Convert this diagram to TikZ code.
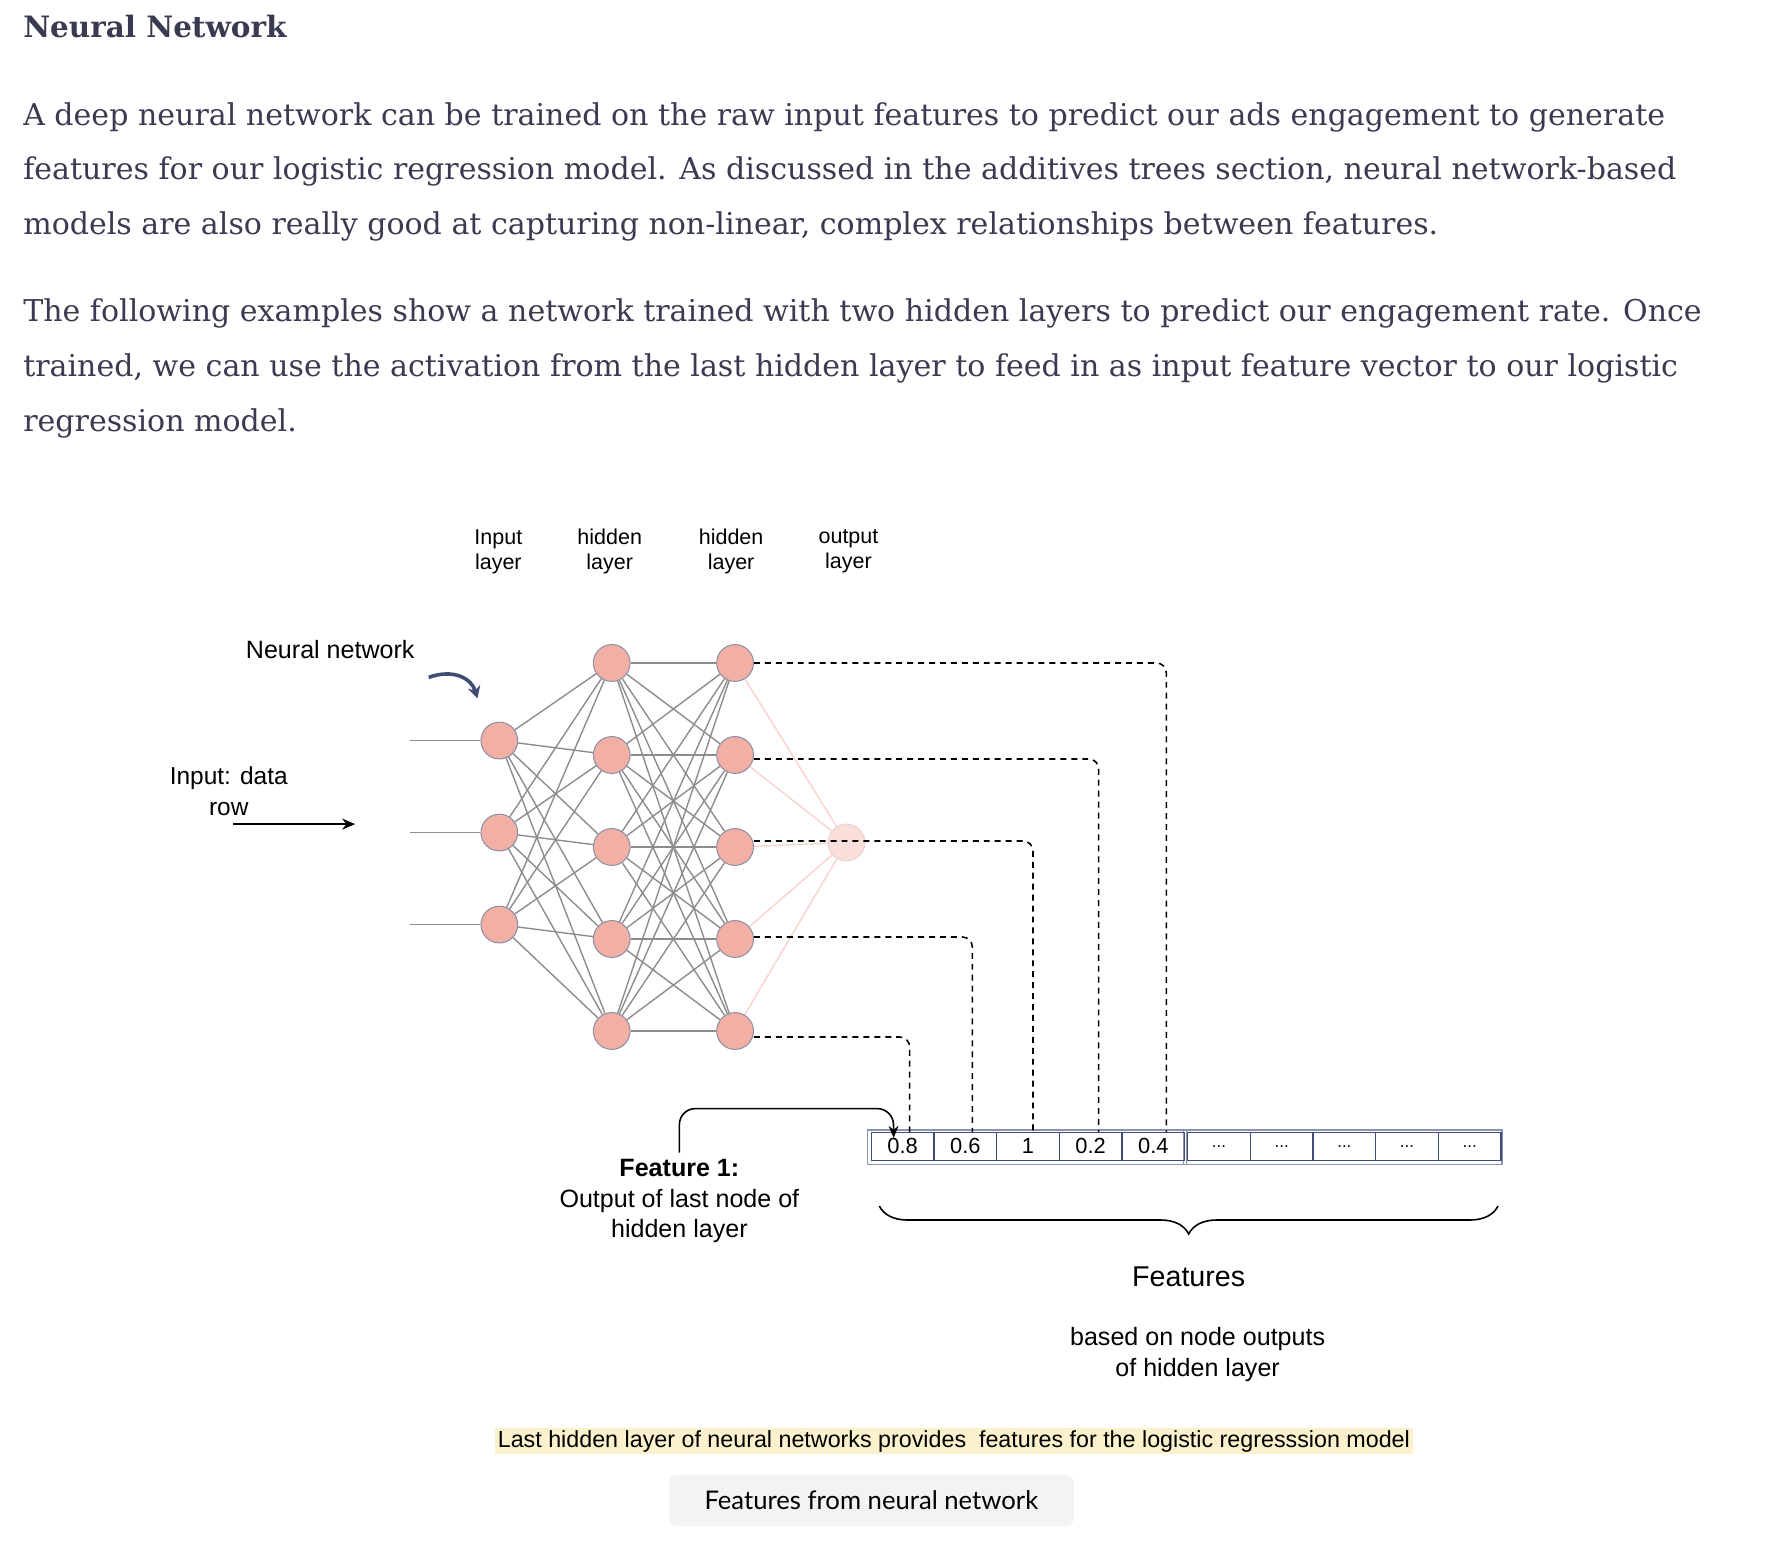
\documentclass[tikz,border=0pt]{standalone}
\usepackage{fontspec}
\setmainfont{Liberation Sans}
\newfontfamily\bodyfont{DejaVu Serif}
\newfontfamily\btnfont{Lato}
\usetikzlibrary{arrows.meta,decorations.pathreplacing}
\pgfdeclarelayer{background}
\pgfsetlayers{background,main}
\definecolor{bodytxt}{HTML}{3A3B50}
\definecolor{nfill}{HTML}{F2AFA4}
\definecolor{nborder}{HTML}{8A8CA6}
\definecolor{ofill}{HTML}{F9DEDA}
\definecolor{oborder}{HTML}{EBD3D3}
\definecolor{wiregray}{HTML}{8C8C8C}
\definecolor{pinkwire}{HTML}{F8D3CE}
\definecolor{cellblue}{HTML}{3F4B78}
\definecolor{shadowblue}{HTML}{8A93B5}
\definecolor{capyellow}{HTML}{FCF1CD}
\definecolor{btngray}{HTML}{F3F3F3}
\definecolor{curvearrow}{HTML}{3F4D75}
\tikzset{
  bodyline/.style={anchor=west, inner sep=0pt, text=bodytxt, font=\bodyfont\fontsize{15.1}{18}\selectfont},
  neuron/.style={circle, draw=nborder, fill=nfill, line width=0.5pt, minimum size=18.5pt, inner sep=0pt},
  outneuron/.style={circle, draw=oborder, fill=ofill, line width=0.5pt, minimum size=18.5pt, inner sep=0pt},
  wire/.style={draw=wiregray, line width=0.7pt},
  owire/.style={draw=pinkwire, line width=0.7pt},
  dashline/.style={draw=black, line width=0.8pt, dash pattern=on 3pt off 2.5pt, rounded corners=5pt},
  layerlbl/.style={align=center, inner sep=0pt, font=\fontsize{10.8}{12.5}\selectfont},
  cell/.style={draw=cellblue, line width=0.6pt, minimum width=31.5pt, minimum height=14pt, inner sep=0pt, font=\fontsize{11}{12}\selectfont},
}
\begin{document}
\begin{tikzpicture}[x=0.5pt,y=-0.5pt]
\useasboundingbox (0,0) rectangle (1793.5,1550);

% ---------- article text ----------
\node[anchor=west, inner sep=0pt, text=bodytxt, font=\bodyfont\bfseries\fontsize{14.8}{17}\selectfont] (title) at (23,27) {Neural Network};
\node[bodyline] (l1) at (23,117.8) {A deep neural network can be trained on the raw input features to predict our ads engagement to generate};
\node[bodyline] (l2) at (23,172.7) {features for our logistic regression model. As discussed in the additives trees section, neural network-based};
\node[bodyline] (l3) at (23,227.5) {models are also really good at capturing non-linear, complex relationships between features.};
\node[bodyline] (l4) at (23,315.6) {The following examples show a network trained with two hidden layers to predict our engagement rate. Once};
\node[bodyline] (l5) at (23,370.5) {trained, we can use the activation from the last hidden layer to feed in as input feature vector to our logistic};
\node[bodyline] (l6) at (23,425.4) {regression model.};

% ---------- layer labels ----------
\node[layerlbl] (lblin) at (501,554.5) {Input\\layer};
\node[layerlbl] (lblh1) at (613,554.5) {hidden\\layer};
\node[layerlbl] (lblh2) at (735,554.5) {hidden\\layer};
\node[layerlbl] (lblout) at (853,554.5) {output\\layer};

\node[inner sep=0pt, font=\fontsize{12.6}{15}\selectfont] (nnlbl) at (332,653) {Neural network};
\coordinate (ca) at (431,681);
\coordinate (cb) at (480,702);
\draw[curvearrow, line width=1.8pt, -{Stealth[length=6pt,width=6.5pt]}] (ca) .. controls (456,672) and (474,682) .. (cb);

\node[align=center, inner sep=0pt, font=\fontsize{12.3}{15.5}\selectfont] (inlbl) at (230,795.5) {Input: data\\row};
\coordinate (ia) at (234,828.5);
\coordinate (ib) at (357,828.5);
\draw[black, line width=0.8pt, -{Stealth[length=6.5pt,width=5.5pt]}] (ia) -- (ib);

% ---------- neurons ----------
\foreach \i/\y in {1/744.5,2/837,3/929.5} {
  \node[neuron] (in\i) at (502,\y) {};
  \coordinate (src\i) at (412,\y);
}
\foreach \i/\y in {1/666.5,2/759,3/851.5,4/944,5/1036.5} {
  \node[neuron] (ha\i) at (615,\y) {};
  \node[neuron] (hb\i) at (739,\y) {};
}
\node[outneuron] (out) at (851,847) {};

\begin{pgfonlayer}{background}
  \foreach \i in {1,2,3} {
    \draw[wire] (src\i) -- (in\i);
    \foreach \j in {1,2,3,4,5} { \draw[wire] (in\i) -- (ha\j); }
  }
  \foreach \i in {1,2,3,4,5} {
    \foreach \j in {1,2,3,4,5} { \draw[wire] (ha\i) -- (hb\j); }
    \draw[owire] (hb\i) -- (out.center);
  }
\end{pgfonlayer}

% ---------- feature vector ----------
\draw[shadowblue, line width=0.6pt] (872,1136) rectangle (1193,1171);
\draw[shadowblue, line width=0.6pt] (1190,1136) rectangle (1510,1171);
\foreach \i/\t in {1/0.8,2/0.6,3/1,4/0.2,5/0.4} {
  \node[cell] (c\i) at ({876+31.5+63*(\i-1)},1152.5) {\t};
}
\foreach \i in {6,7,8,9,10} {
  \node[cell] (c\i) at ({879+31.5+63*(\i-1)},1152.5) {\fontsize{8.5}{10}\selectfont ...};
}

% ---------- dashed feeds ----------
\draw[dashline] (hb1.east) -| ([xshift=6.5pt]c5.north);
\draw[dashline] ([yshift=-2pt]hb2.east) -| ([xshift=4pt]c4.north);
\draw[dashline] ([yshift=3pt]hb3.east) -| ([xshift=2.5pt]c3.north);
\draw[dashline] ([yshift=1pt]hb4.east) -| ([xshift=3.5pt]c2.north);
\draw[dashline] ([yshift=-3pt]hb5.east) -| ([xshift=3.5pt]c1.north);

% ---------- feature 1 annotation ----------
\node[align=center, inner sep=0pt, font=\fontsize{12.6}{15.5}\selectfont] (f1) at (683,1207.5) {\textbf{Feature 1:}\\Output of last node of\\hidden layer};
\coordinate (fturn) at (898,1114.5);
\draw[black, line width=0.8pt, rounded corners=8pt, -{Stealth[length=6pt,width=5pt]}] ([yshift=3pt]f1.north) |- (fturn) -- ([xshift=-4.5pt,yshift=-3pt]c1.north);

% ---------- brace and labels ----------
\coordinate (bl) at (884,1212.5);
\coordinate (br) at (1506,1212.5);
\draw[black, line width=0.8pt, decorate, decoration={brace, mirror, amplitude=14pt}] (bl) -- (br);
\node[inner sep=0pt, font=\fontsize{14.4}{17}\selectfont] (featlbl) at (1195,1283.5) {Features};
\node[align=center, inner sep=0pt, font=\fontsize{12.6}{15.5}\selectfont] (basedlbl) at (1204,1362) {based on node outputs\\of hidden layer};

% ---------- caption and button ----------
\node[fill=capyellow, minimum width=461.5pt, minimum height=13pt, inner sep=0pt, font=\fontsize{11.7}{13}\selectfont] (cap) at (959,1449) {Last hidden layer of neural networks provides\ \ features for the logistic regresssion model};
\node[fill=btngray, rounded corners=4pt, minimum width=203.5pt, minimum height=25.8pt, inner sep=0pt, font=\btnfont\fontsize{12.9}{15}\selectfont] (btn) at (876,1508.5) {Features from neural network};
\end{tikzpicture}
\end{document}
